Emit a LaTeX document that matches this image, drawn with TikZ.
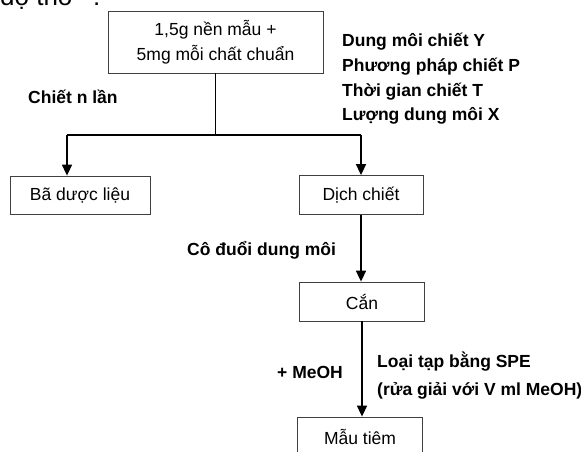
\documentclass[tikz,border=0pt]{standalone}
\usepackage{fontspec}
\setmainfont{Liberation Sans}
\usetikzlibrary{arrows.meta}
\begin{document}
\begin{tikzpicture}[x=1pt,y=-1pt,
  box/.style={draw=black!75, line width=0.8pt, inner sep=0pt, align=center,
              font=\fontsize{17.5}{24.5}\selectfont},
  lbl/.style={anchor=base west, inner sep=0pt, font=\fontsize{17.5}{21}\selectfont\bfseries},
  conn/.style={line width=1.6pt},
  arr/.style={conn, -{Triangle[length=11pt,width=10pt]}}]
\useasboundingbox (0,0) rectangle (581,452);
\clip (0,0) rectangle (581,452);
\node[anchor=base west, inner sep=0pt, font=\fontsize{26}{30}\selectfont] (top) at (0,6) {độ thô”\hspace{12pt}:};
\node[box, minimum width=215pt, minimum height=62pt] (b1) at (215.5,42) {1,5g nền mẫu +\\5mg mỗi chất chuẩn};
\node[box, minimum width=140pt, minimum height=38pt] (ba) at (80,195) {Bã dược liệu};
\node[box, minimum width=124pt, minimum height=39pt] (dich) at (361,195) {Dịch chiết};
\node[box, minimum width=125pt, minimum height=39pt] (can) at (362,301.5) {Cắn};
\node[box, minimum width=125pt, minimum height=40pt] (mau) at (360,437) {Mẫu tiêm};
\node[lbl] (l1) at (342,47) {Dung môi chiết Y};
\node[lbl] (l2) at (342,71.5) {Phương pháp chiết P};
\node[lbl] (l3) at (342,96) {Thời gian chiết T};
\node[lbl] (l4) at (342,120.5) {Lượng dung môi X};
\node[lbl] (cn) at (28,103) {Chiết n lần};
\node[lbl] (co) at (187,255) {Cô đuổi dung môi};
\node[lbl] (me) at (277,378) {+ MeOH};
\node[lbl] (lt) at (377,367) {Loại tạp bằng SPE};
\node[lbl] (rg) at (377,395) {(rửa giải với V ml MeOH)};
\coordinate (sp) at (b1.south |- 0,135);
\coordinate (jl) at (67,135);
\coordinate (jr) at (dich.north |- 0,135);
\draw[conn] (b1.south) -- (sp);
\draw[conn] (jl) -- (jr);
\draw[arr] (jl) -- (jl |- ba.north);
\draw[arr] (jr) -- (dich.north);
\draw[arr] (dich.south) -- (dich.south |- can.north);
\draw[arr] (can.south) -- (can.south |- mau.north);
\end{tikzpicture}
\end{document}
